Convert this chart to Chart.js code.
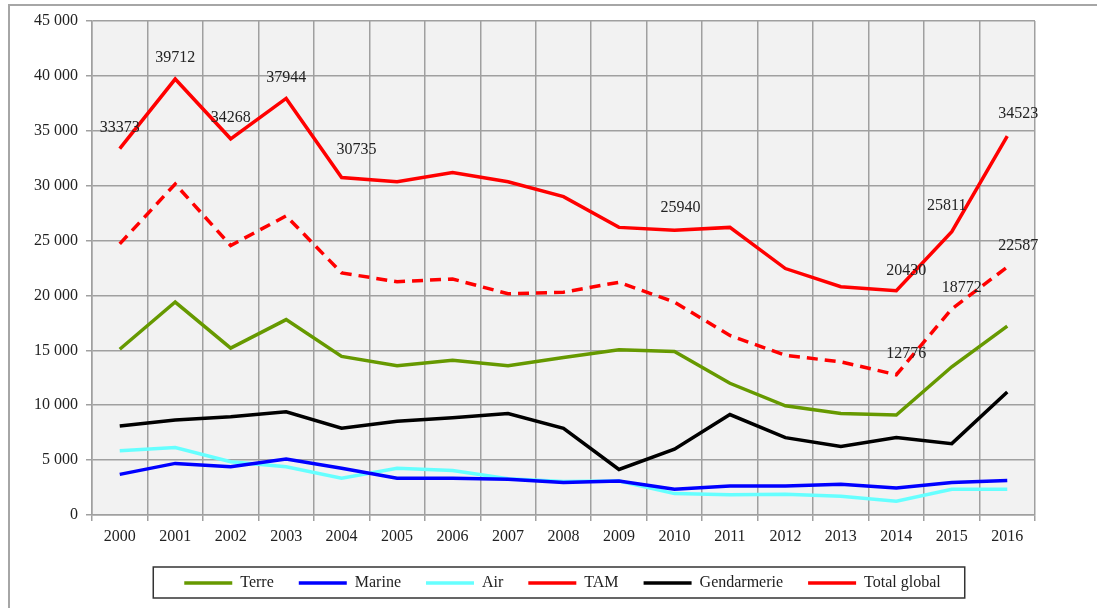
<!DOCTYPE html>
<html>
<head>
<meta charset="utf-8">
<script src="https://cdn.jsdelivr.net/npm/chart.js@4.4.1/dist/chart.umd.min.js"></script>
<style>
  html, body { margin: 0; padding: 0; background: #fff; }
  #frame { position: absolute; left: 8px; top: 4px; width: 1089px; height: 604px;
           border-left: 2px solid #a6a6a6; border-top: 2px solid #a6a6a6; }
  #chart { position: absolute; left: 0; top: 0; }
</style>
</head>
<body>
<div id="frame"></div>
<canvas id="chart" width="1097" height="608"></canvas>
<script>
const years = ["2000","2001","2002","2003","2004","2005","2006","2007","2008",
               "2009","2010","2011","2012","2013","2014","2015","2016"];

const terre = [15100, 19400, 15200, 17800, 14450, 13600, 14100, 13600, 14350,
               15050, 14900, 12000, 9950, 9250, 9100, 13500, 17200];
const marine = [3700, 4700, 4400, 5100, 4250, 3350, 3350, 3250, 2950,
                3100, 2350, 2650, 2650, 2800, 2450, 2950, 3150];
const air = [5850, 6150, 4850, 4400, 3350, 4250, 4050, 3300, 3050,
             3100, 1950, 1850, 1900, 1700, 1250, 2350, 2350];
const tam = [24700, 30150, 24550, 27250, 22050, 21250, 21500, 20150, 20300,
             21200, 19400, 16350, 14550, 13950, 12776, 18772, 22587];
const gendarmerie = [8100, 8650, 8950, 9400, 7900, 8550, 8850, 9250, 7900,
                     4150, 6000, 9150, 7050, 6250, 7050, 6500, 11200];
const total = [33373, 39712, 34268, 37944, 30735, 30350, 31200, 30350, 29000,
               26200, 25940, 26200, 22450, 20800, 20430, 25811, 34523];

// which points carry a value label
const totalLabelIdx = [0, 1, 2, 3, 4, 10, 14, 15, 16];
const tamLabelIdx = [14, 15, 16];

const FONT = "'Liberation Serif', 'DejaVu Serif', serif";
Chart.defaults.font.family = FONT;
Chart.defaults.font.size = 16;
Chart.defaults.color = "#222";

// label nudges in px (dx, dy) from the point
const labelNudge = {
  "5-0": [0, -21], "5-1": [0, -21], "5-2": [0, -21], "5-3": [0, -21],
  "5-4": [15, -28], "5-10": [6, -22], "5-14": [10, -20], "5-15": [-5, -26],
  "5-16": [11, -22],
  "3-14": [10, -21], "3-15": [10, -21], "3-16": [11, -21]
};

const plotBg = {
  id: "plotBg",
  beforeDraw(chart) {
    const a = chart.chartArea, ctx = chart.ctx;
    ctx.save();
    ctx.fillStyle = "#f2f2f2";
    ctx.fillRect(a.left, a.top, a.right - a.left, a.bottom - a.top);
    ctx.restore();
  }
};

const valueLabels = {
  id: "valueLabels",
  afterDatasetsDraw(chart) {
    const ctx = chart.ctx;
    ctx.save();
    ctx.font = "16px " + FONT;
    ctx.fillStyle = "#222";
    ctx.textAlign = "center";
    ctx.textBaseline = "middle";
    const draw = (di, idxs) => {
      const meta = chart.getDatasetMeta(di);
      idxs.forEach(i => {
        const p = meta.data[i];
        const n = labelNudge[di + "-" + i] || [0, -21];
        ctx.fillText(String(chart.data.datasets[di].data[i]), p.x + n[0], p.y + n[1]);
      });
    };
    draw(5, totalLabelIdx);
    draw(3, tamLabelIdx);
    ctx.restore();
  }
};

// move the legend right so it sits under the plot like the original, then frame it
const legendBox = {
  id: "legendBox",
  afterUpdate(chart) {
    const lg = chart.legend;
    lg.left += 28;
    lg.right += 28;
    lg.legendHitBoxes.forEach(h => { h.left += 28; });
  },
  afterDraw(chart) {
    const boxes = chart.legend.legendHitBoxes;
    if (!boxes || !boxes.length) return;
    const left = Math.min(...boxes.map(b => b.left));
    const right = Math.max(...boxes.map(b => b.left + b.width));
    const top = boxes[0].top;
    const ctx = chart.ctx;
    ctx.save();
    ctx.strokeStyle = "#333";
    ctx.lineWidth = 1.5;
    ctx.strokeRect(left - 31, top - 8, right - left + 55, 31);
    ctx.restore();
  }
};

const line = (label, data, color, extra) => Object.assign({
  label, data,
  borderColor: color, backgroundColor: color,
  borderWidth: 3.5, pointRadius: 0, tension: 0, fill: false
}, extra || {});

new Chart(document.getElementById("chart"), {
  type: "line",
  data: {
    labels: years,
    datasets: [
      line("Terre", terre, "#669900"),
      line("Marine", marine, "#0000ff"),
      line("Air", air, "#66ffff"),
      line("TAM", tam, "#ff0000", { borderDash: [11, 7] }),
      line("Gendarmerie", gendarmerie, "#000000"),
      line("Total global", total, "#ff0000")
    ]
  },
  options: {
    responsive: false,
    animation: false,
    devicePixelRatio: 1,
    layout: { padding: { left: 34, right: 62, top: 21, bottom: 7 } },
    scales: {
      x: {
        offset: true,
        grid: { offset: true, color: "#a0a0a0", lineWidth: 1.5, tickLength: 6 },
        border: { color: "#a0a0a0", width: 1.5 },
        ticks: { padding: 6, color: "#222", maxRotation: 0 },
        afterFit(s) { s.height = 35; }
      },
      y: {
        min: 0, max: 45000,
        grid: { color: "#a0a0a0", lineWidth: 1.5, tickLength: 6 },
        border: { color: "#a0a0a0", width: 1.5 },
        ticks: {
          stepSize: 5000, padding: 8, color: "#222",
          callback: v => v === 0 ? "0" : String(v).replace(/\B(?=(\d{3})+(?!\d))/g, " ")
        },
        afterFit(s) { s.width = 58; }
      }
    },
    plugins: {
      tooltip: { enabled: false },
      legend: {
        position: "bottom",
        labels: {
          usePointStyle: true, pointStyle: "line", pointStyleWidth: 48,
          padding: 25, color: "#222", font: { size: 16 }
        }
      }
    }
  },
  plugins: [plotBg, valueLabels, legendBox]
});
</script>
</body>
</html>
